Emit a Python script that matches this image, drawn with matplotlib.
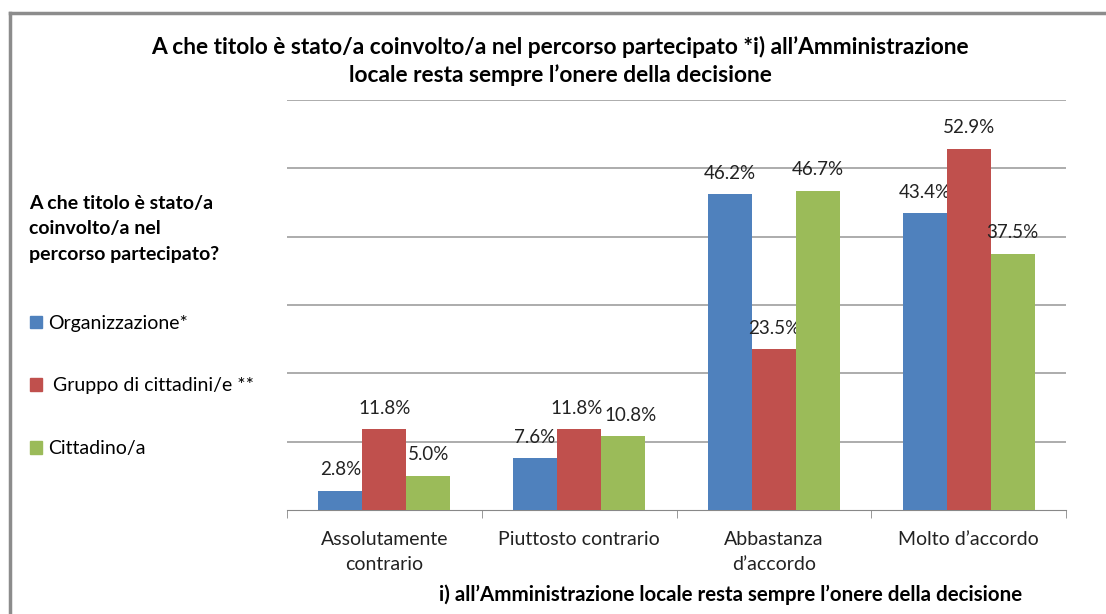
import matplotlib
matplotlib.use("Agg")
import matplotlib.pyplot as plt
from matplotlib.patches import Patch
import numpy as np

plt.rcParams['font.family'] = ['Lato', 'DejaVu Sans']

categories = ["Assolutamente\ncontrario", "Piuttosto contrario", "Abbastanza\nd\u2019accordo", "Molto d\u2019accordo"]
series_names = ["Organizzazione*", " Gruppo di cittadini/e **", "Cittadino/a"]
organizzazione = [2.8, 7.6, 46.2, 43.4]
gruppo = [11.8, 11.8, 23.5, 52.9]
cittadino = [5.0, 10.8, 46.7, 37.5]
colors = ["#4F81BD", "#C0504D", "#9BBB59"]

fig = plt.figure(figsize=(11.06, 6.14), dpi=100)
ax = fig.add_axes([287 / 1106, 1 - 510 / 614, (1066 - 287) / 1106, 410 / 614])

# labels that sit too close get nudged sideways (points)
nudge = {(1, 1): -2, (2, 1): 5}

x = np.arange(len(categories))
w = 0.226
for i, vals in enumerate([organizzazione, gruppo, cittadino]):
    bars = ax.bar(x + (i - 1) * w, vals, w, color=colors[i], zorder=3, label=series_names[i])
    for j, (b, v) in enumerate(zip(bars, vals)):
        ax.annotate(f"{v:.1f}%", (b.get_x() + b.get_width() / 2, v), xytext=(nudge.get((i, j), 0), 9),
                    textcoords="offset points", ha="center", va="bottom", fontsize=13.5, color="#222222")

ax.set_xlim(-0.5, 3.5)
ax.set_ylim(0, 60)
ax.set_yticks(np.arange(10, 61, 10))
ax.yaxis.grid(True, color="#A6A6A6", lw=1.3)
ax.tick_params(axis="y", length=0, labelleft=False)
ax.set_xticks(x)
ax.set_xticklabels(categories, fontsize=14, color="#222222", linespacing=1.55)
ax.tick_params(axis="x", length=0, pad=15)
ax.set_xticks(np.arange(-0.5, 4, 1), minor=True)
ax.tick_params(axis="x", which="minor", length=6, color="#888888")
for s in ["left", "right", "top"]:
    ax.spines[s].set_visible(False)
ax.spines["bottom"].set_color("#888888")

fig.text(731 / 1106, 1 - 595 / 614, "i) all\u2019Amministrazione locale resta sempre l\u2019onere della decisione",
         ha="center", va="center", fontsize=14.8, fontweight="bold")

fig.text(560 / 1106, 1 - 61 / 614, "A che titolo è stato/a coinvolto/a nel percorso partecipato *i) all\u2019Amministrazione\nlocale resta sempre l\u2019onere della decisione",
         ha="center", va="center", fontsize=16.4, fontweight="bold", linespacing=1.3)

fig.text(29 / 1106, 1 - 229 / 614, "A che titolo è stato/a\ncoinvolto/a nel\npercorso partecipato?",
         ha="left", va="center", fontsize=14, fontweight="bold", linespacing=1.6)

handles = [Patch(color=c) for c in colors]
fig.legend(handles, series_names, loc="upper left", bbox_to_anchor=(22 / 1106, 1 - 307 / 614),
           frameon=False, fontsize=14, labelspacing=2.35, handlelength=0.62, handleheight=0.62,
           handletextpad=0.3, borderaxespad=0)

# chart border
fig.add_artist(plt.Line2D([10 / 1106, 10 / 1106], [0, 1 - 13 / 614], color="#8C8C8C", lw=2.5))
fig.add_artist(plt.Line2D([10 / 1106, 1], [1 - 13 / 614, 1 - 13 / 614], color="#8C8C8C", lw=2.5))

fig.savefig("out.png", dpi=100)
